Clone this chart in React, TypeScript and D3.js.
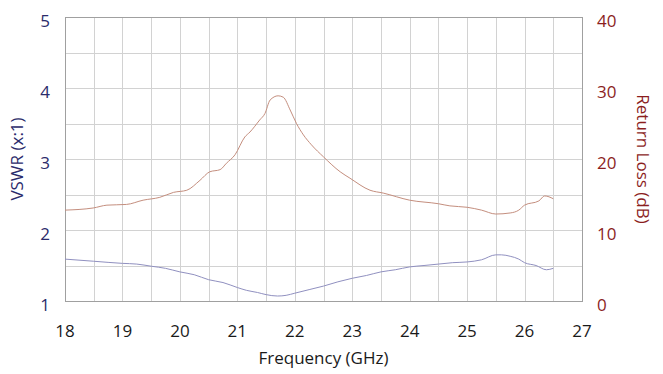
import React from "react";
import * as d3 from "d3";

const xTicks = [18, 19, 20, 21, 22, 23, 24, 25, 26, 27];
const vswrTicks = [1, 2, 3, 4, 5];
const rlTicks = [0, 10, 20, 30, 40];

const vswrFreq = [18, 18.5, 19, 19.25, 19.5, 19.75, 20, 20.25, 20.5, 20.75, 21, 21.16, 21.35, 21.5, 21.7, 21.85, 22, 22.25, 22.5, 22.75, 23, 23.25, 23.5, 23.75, 24, 24.25, 24.5, 24.75, 25, 25.25, 25.5, 25.6, 25.75, 25.9, 26, 26.2, 26.38, 26.5];
const vswrValues = [1.59, 1.56, 1.53, 1.52, 1.49, 1.46, 1.41, 1.37, 1.30, 1.26, 1.19, 1.15, 1.12, 1.09, 1.07, 1.08, 1.11, 1.16, 1.21, 1.27, 1.32, 1.36, 1.41, 1.44, 1.48, 1.50, 1.52, 1.54, 1.55, 1.58, 1.65, 1.65, 1.63, 1.59, 1.54, 1.50, 1.44, 1.46];

const rlFreq = [18, 18.49, 18.73, 19.07, 19.36, 19.65, 19.89, 20.12, 20.35, 20.52, 20.7, 20.81, 20.96, 21.13, 21.22, 21.39, 21.48, 21.57, 21.71, 21.8, 21.92, 22.03, 22.15, 22.29, 22.5, 22.79, 22.96, 23.31, 23.54, 24.0, 24.5, 24.7, 25.0, 25.25, 25.5, 25.75, 25.9, 26.0, 26.25, 26.35, 26.5];
const rlValues = [12.8, 13.1, 13.5, 13.6, 14.2, 14.6, 15.3, 15.6, 17.0, 18.2, 18.5, 19.4, 20.6, 23.1, 23.8, 25.5, 26.4, 28.3, 28.9, 28.7, 26.9, 25.0, 23.4, 22.0, 20.3, 18.2, 17.3, 15.6, 15.2, 14.2, 13.7, 13.4, 13.2, 12.8, 12.25, 12.4, 12.8, 13.5, 14.1, 14.8, 14.4];

const W = 663;
const H = 374;
const left = 65;
const right = 582;
const top = 17;
const bottom = 301;
const FONT = "'Open Sans', 'DejaVu Sans', sans-serif";

export default function App() {
  const x = d3.scaleLinear().domain([18, 27]).range([left, right]);
  const yV = d3.scaleLinear().domain([1, 5]).range([bottom, top]);
  const yR = d3.scaleLinear().domain([0, 40]).range([bottom, top]);

  const vLine = d3
    .line<number>()
    .x((_, i) => x(vswrFreq[i]))
    .y((d) => yV(d))
    .curve(d3.curveMonotoneX);
  const rLine = d3
    .line<number>()
    .x((_, i) => x(rlFreq[i]))
    .y((d) => yR(d))
    .curve(d3.curveMonotoneX);

  const xGrid = d3.range(18, 27.001, 0.5);
  const yGrid = d3.range(1, 5.001, 0.5);

  return (
    <svg
      width={W}
      height={H}
      style={{ position: "absolute", left: 0, top: 0, background: "#fff" }}
      fontFamily={FONT}
    >
      <rect x={0} y={0} width={W} height={H} fill="#fff" />
      <g stroke="#d2d2d2" strokeWidth={1}>
        {xGrid.map((g) => (
          <line key={"x" + g} x1={Math.round(x(g)) + 0.5} x2={Math.round(x(g)) + 0.5} y1={top} y2={bottom} />
        ))}
        {yGrid.map((g) => (
          <line key={"y" + g} x1={left} x2={right} y1={Math.round(yV(g)) + 0.5} y2={Math.round(yV(g)) + 0.5} />
        ))}
      </g>
      <rect
        x={left + 0.5}
        y={top + 0.5}
        width={right - left}
        height={bottom - top}
        fill="none"
        stroke="#a0a0a0"
        strokeWidth={1}
      />
      <path d={rLine(rlValues) || ""} fill="none" stroke="#c48e7e" strokeWidth={1} />
      <path d={vLine(vswrValues) || ""} fill="none" stroke="#9090c0" strokeWidth={1} />

      <g fontSize={17} fill="#2b2b6b" textAnchor="middle">
        {vswrTicks.map((t) => (
          <text key={t} x={45} y={yV(t) + 3} dominantBaseline="central">
            {t}
          </text>
        ))}
      </g>
      <g fontSize={17} fill="#8b1e1e" textAnchor="start">
        {rlTicks.map((t) => (
          <text key={t} x={597} y={yR(t) + 3} dominantBaseline="central">
            {t}
          </text>
        ))}
      </g>
      <g fontSize={17} fill="#1a1a1a" textAnchor="middle">
        {xTicks.map((t) => (
          <text key={t} x={x(t)} y={337}>
            {t}
          </text>
        ))}
      </g>
      <text x={(left + right) / 2} y={364} fontSize={17} fill="#1a1a1a" textAnchor="middle">
        Frequency (GHz)
      </text>
      <text
        transform={`translate(23, ${(top + bottom) / 2}) rotate(-90)`}
        fontSize={17}
        fill="#2b2b6b"
        textAnchor="middle"
      >
        VSWR (x:1)
      </text>
      <text
        transform={`translate(637, ${(top + bottom) / 2}) rotate(90)`}
        fontSize={17}
        fill="#8b1e1e"
        textAnchor="middle"
      >
        Return Loss (dB)
      </text>
    </svg>
  );
}
